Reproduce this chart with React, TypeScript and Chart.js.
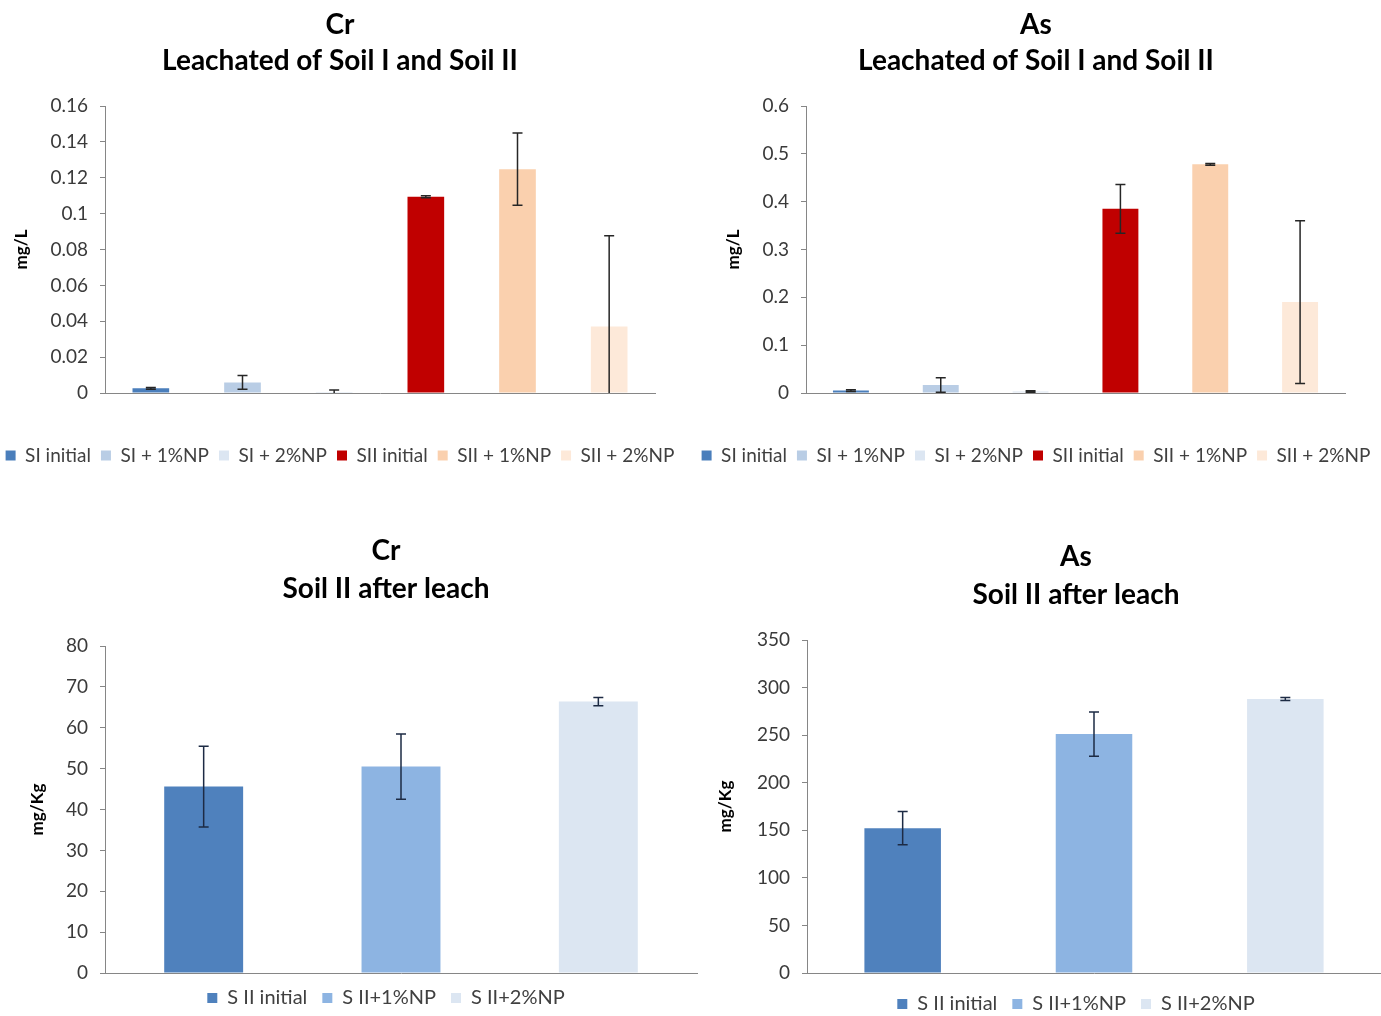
import React, { useEffect, useRef } from "react";
import { Chart, registerables } from "chart.js";

Chart.register(...registerables);

// ---------------- DATA ----------------
const leachSeries = ["SI initial", "SI + 1%NP", "SI + 2%NP", "SII initial", "SII + 1%NP", "SII + 2%NP"];
const leachColors = ["#4A7EBB", "#B9CDE5", "#DCE6F2", "#C00000", "#FAD0AE", "#FDE9D9"];

const crLeachValues = [0.0026, 0.0059, 0.0006, 0.1094, 0.1248, 0.0371];
const crLeachErrors = [0.0005, 0.0038, 0.0011, 0.0006, 0.0202, 0.0505];
const crLeachTicks = [0, 0.02, 0.04, 0.06, 0.08, 0.1, 0.12, 0.14, 0.16];

const asLeachValues = [0.005, 0.0167, 0.003, 0.385, 0.478, 0.19];
const asLeachErrors = [0.002, 0.015, 0.0015, 0.051, 0.002, 0.17];
const asLeachTicks = [0, 0.1, 0.2, 0.3, 0.4, 0.5, 0.6];

const soilSeries = ["S II initial", "S II+1%NP", "S II+2%NP"];
const soilColors = ["#4F81BD", "#8DB4E2", "#DCE6F2"];

const crSoilValues = [45.6, 50.5, 66.4];
const crSoilErrors = [9.9, 8.0, 1.0];
const crSoilTicks = [0, 10, 20, 30, 40, 50, 60, 70, 80];

const asSoilValues = [152.2, 251.1, 288];
const asSoilErrors = [17.5, 23.3, 1.5];
const asSoilTicks = [0, 50, 100, 150, 200, 250, 300, 350];

// ---------------- LAYOUT ----------------
const FONT = "Lato";
const TITLE_SIZE = 28;

type Panel = {
  key: string;
  left: number;
  top: number;
  width: number;
  height: number;
  title: string[];
  titleLineHeight: number;
  titlePadTop: number;
  titlePadBottom: number;
  yAxisWidth: number;
  rightPad: number;
  xAxisHeight: number;
  yTitle: string;
  yTitlePad: number;
  legendPad: number;
  legendSize: number;
  series: string[];
  colors: string[];
  values: number[];
  errors: number[];
  ticks: number[];
  errColor: string;
};

const panels: Panel[] = [
  {
    key: "crLeach",
    left: -20, top: 0, width: 720, height: 475,
    title: ["Cr", "Leachated of Soil I and Soil II"],
    titleLineHeight: 36, titlePadTop: 7, titlePadBottom: 27,
    yAxisWidth: 125, rightPad: 45, xAxisHeight: 43,
    yTitle: "mg/L", yTitlePad: 31.8, legendPad: 10, legendSize: 19,
    series: leachSeries, colors: leachColors,
    values: crLeachValues, errors: crLeachErrors, ticks: crLeachTicks,
    errColor: "#262626",
  },
  {
    key: "asLeach",
    left: 676, top: 0, width: 720, height: 475,
    title: ["As", "Leachated of Soil I and Soil II"],
    titleLineHeight: 36, titlePadTop: 7, titlePadBottom: 27,
    yAxisWidth: 130, rightPad: 51, xAxisHeight: 43,
    yTitle: "mg/L", yTitlePad: 47.8, legendPad: 10, legendSize: 19,
    series: leachSeries, colors: leachColors,
    values: asLeachValues, errors: asLeachErrors, ticks: asLeachTicks,
    errColor: "#262626",
  },
  {
    key: "crSoil",
    left: 0, top: 490, width: 772, height: 528,
    title: ["Cr", "Soil II after leach"],
    titleLineHeight: 38, titlePadTop: 42, titlePadBottom: 38,
    yAxisWidth: 105, rightPad: 75, xAxisHeight: 0,
    yTitle: "mg/Kg", yTitlePad: 27.8, legendPad: 15, legendSize: 20,
    series: soilSeries, colors: soilColors,
    values: crSoilValues, errors: crSoilErrors, ticks: crSoilTicks,
    errColor: "#1d2b44",
  },
  {
    key: "asSoil",
    left: 700, top: 490, width: 752, height: 534,
    title: ["As", "Soil II after leach"],
    titleLineHeight: 38, titlePadTop: 48, titlePadBottom: 26,
    yAxisWidth: 107, rightPad: 71, xAxisHeight: 6,
    yTitle: "mg/Kg", yTitlePad: 15.8, legendPad: 15, legendSize: 20,
    series: soilSeries, colors: soilColors,
    values: asSoilValues, errors: asSoilErrors, ticks: asSoilTicks,
    errColor: "#1d2b44",
  },
];

const errorBarPlugin = {
  id: "errorBars",
  afterDatasetsDraw(chart: any, _args: any, opts: any) {
    const { ctx, chartArea } = chart;
    const yScale = chart.scales.y;
    const errors: number[] = opts.errors || [];
    const cap = 5;
    ctx.save();
    ctx.beginPath();
    ctx.rect(chartArea.left, chartArea.top - 4, chartArea.right - chartArea.left, chartArea.bottom - chartArea.top + 4);
    ctx.clip();
    ctx.strokeStyle = opts.color;
    ctx.lineWidth = 1.5;
    chart.data.datasets.forEach((ds: any, di: number) => {
      const meta = chart.getDatasetMeta(di);
      ds.data.forEach((v: number | null, j: number) => {
        if (v == null) return;
        const e = errors[j];
        const el = meta.data[j];
        if (!el) return;
        const x = el.x;
        const yt = yScale.getPixelForValue(v + e);
        const yb = yScale.getPixelForValue(v - e);
        ctx.beginPath();
        ctx.moveTo(x, yt);
        ctx.lineTo(x, yb);
        ctx.moveTo(x - cap, yt);
        ctx.lineTo(x + cap, yt);
        ctx.moveTo(x - cap, yb);
        ctx.lineTo(x + cap, yb);
        ctx.stroke();
      });
    });
    ctx.restore();
  },
};

function fmt(v: number) {
  return String(parseFloat(v.toFixed(4)));
}

function PanelChart({ p }: { p: Panel }) {
  const ref = useRef<HTMLCanvasElement | null>(null);
  useEffect(() => {
    if (!ref.current) return;
    const datasets = p.series.map((name, i) => ({
      label: name,
      data: p.values.map((v, j) => (j === i ? v : null)),
      backgroundColor: p.colors[i],
      borderWidth: 0,
      grouped: false,
      barPercentage: 0.4,
      categoryPercentage: 1.0,
    }));
    const chart = new Chart(ref.current, {
      type: "bar",
      data: { labels: p.series, datasets },
      plugins: [errorBarPlugin],
      options: {
        animation: false,
        responsive: false,
        devicePixelRatio: 1,
        layout: { padding: 0 },
        scales: {
          x: {
            grid: { display: false },
            border: { display: true, color: "#868686", width: 1 },
            ticks: { display: false },
            afterFit: (s: any) => { s.height = p.xAxisHeight; },
          },
          y: {
            min: p.ticks[0],
            max: p.ticks[p.ticks.length - 1],
            afterBuildTicks: (s: any) => { s.ticks = p.ticks.map((v) => ({ value: v })); },
            grid: { display: true, drawOnChartArea: false, drawTicks: true, tickLength: 5, color: "#868686" },
            border: { display: true, color: "#868686", width: 1 },
            ticks: {
              padding: 12,
              color: "#3a3a3a",
              font: { family: FONT, size: 19 },
              callback: (v: any) => fmt(Number(v)),
            },
            title: {
              display: true,
              text: p.yTitle,
              color: "#000000",
              font: { family: FONT, size: 17, weight: "bold" },
              padding: { top: p.yTitlePad, bottom: 0 },
            },
            afterFit: (s: any) => { s.width = p.yAxisWidth; },
          },
          yR: {
            type: "linear",
            position: "right",
            display: true,
            grid: { display: false },
            border: { display: false },
            ticks: { display: false },
            afterFit: (s: any) => { s.width = p.rightPad; },
          },
        },
        plugins: {
          title: {
            display: true,
            text: p.title,
            color: "#000000",
            font: { family: FONT, size: TITLE_SIZE, weight: "bold", lineHeight: p.titleLineHeight / TITLE_SIZE },
            padding: { top: p.titlePadTop, bottom: p.titlePadBottom },
          },
          legend: {
            display: true,
            position: "bottom",
            labels: {
              boxWidth: 10,
              boxHeight: 10,
              padding: p.legendPad,
              color: "#404040",
              font: { family: FONT, size: p.legendSize },
            },
          },
          tooltip: { enabled: false },
          errorBars: { errors: p.errors, color: p.errColor },
        } as any,
      },
    } as any);
    return () => chart.destroy();
  }, [p]);
  return (
    <canvas
      ref={ref}
      width={p.width}
      height={p.height}
      style={{ position: "absolute", left: p.left, top: p.top, width: p.width, height: p.height }}
    />
  );
}

export default function App() {
  return (
    <div
      style={{
        position: "fixed",
        left: 0,
        top: 0,
        width: 1381,
        height: 1016,
        overflow: "hidden",
        background: "#ffffff",
      }}
    >
      {panels.map((p) => (
        <PanelChart key={p.key} p={p} />
      ))}
    </div>
  );
}
